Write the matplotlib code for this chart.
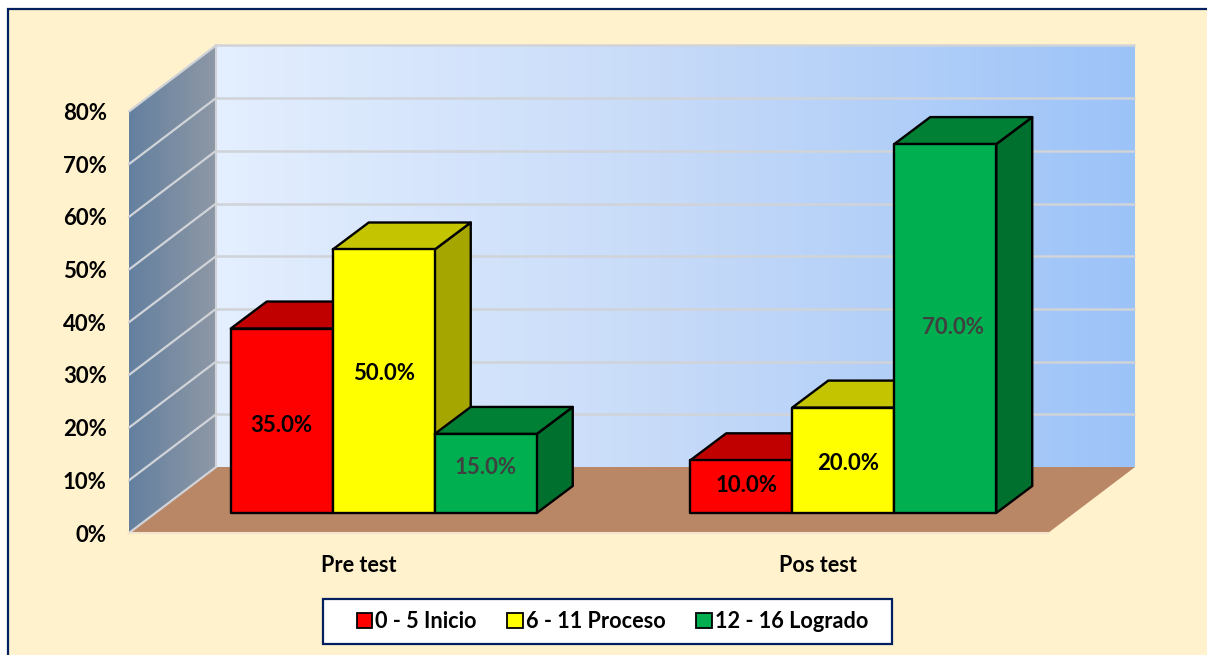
import numpy as np
import matplotlib
matplotlib.use("Agg")
import matplotlib.pyplot as plt
from matplotlib.colors import LinearSegmentedColormap
from matplotlib.patches import Patch, Polygon, Rectangle

plt.rcParams["font.family"] = ["Lato", "DejaVu Sans"]

# Datos
categorias = ["Pre test", "Pos test"]
niveles = ["0 - 5 Inicio", "6 - 11 Proceso", "12 - 16 Logrado"]
inicio = [35.0, 10.0]
proceso = [50.0, 20.0]
logrado = [15.0, 70.0]
ticks_y = [0, 10, 20, 30, 40, 50, 60, 70, 80]

# Colores: frente, arriba, lado
col_frente = ["#FF0000", "#FFFF00", "#00B050"]
col_arriba = ["#C00000", "#C4C400", "#008035"]
col_lado = ["#C00000", "#A6A600", "#00702F"]
col_texto = ["black", "black", "#404040"]

fig = plt.figure(figsize=(12.07, 6.55), dpi=100, facecolor="white")
fig.add_artist(Rectangle((8 / 1207, -0.05), 1.1, (655 - 9) / 655 + 0.05,
                         transform=fig.transFigure, facecolor="#FFF2CC",
                         edgecolor="#002060", linewidth=1.6, zorder=-1))

# El plano frontal del eje va de x=129 a 1048 y de y=533 a 111.4 (pixeles)
esc_y = 5.27
ax = fig.add_axes([129 / 1207, (655 - 533) / 655, 919 / 1207, 80 * esc_y / 655])
ax.patch.set_visible(False)
for s in ax.spines.values():
    s.set_visible(False)

# Profundidad de las paredes y de las barras, en unidades de datos
prof_x = 87 / 459.5
prof_y = 66 / esc_y
barra_x = 36 / 459.5
barra_y = 27 / esc_y
ancho = 102 / 459.5
desp_x = 25 / 459.5
desp_y = 20 / esc_y

# Pared del fondo con degradado
ax.imshow(np.linspace(0, 1, 256).reshape(1, -1),
          cmap=LinearSegmentedColormap.from_list("fondo", ["#E4EFFF", "#C6DAF8", "#9CC3F8"]),
          extent=(prof_x, 2 + prof_x, prof_y, 80 + prof_y),
          aspect="auto", zorder=1, clip_on=False)

# Pared izquierda con degradado
pared = Polygon([(0, 0), (prof_x, prof_y), (prof_x, 80 + prof_y), (0, 80)],
                closed=True, facecolor="none", edgecolor="none")
ax.add_patch(pared)
img = ax.imshow(np.linspace(0, 1, 256).reshape(1, -1),
                cmap=LinearSegmentedColormap.from_list("pared", ["#64809F", "#8E98A6"]),
                extent=(0, prof_x, 0, 80 + prof_y),
                aspect="auto", zorder=1)
img.set_clip_box(fig.bbox)
img.set_clip_path(pared)
ax.set_xlim(0, 2)
ax.set_ylim(0, 80)

# Piso
ax.add_patch(Polygon([(0, 0), (prof_x, prof_y), (2 + prof_x, prof_y), (2, 0)],
                     closed=True, facecolor="#B98766", edgecolor="none",
                     zorder=1.5, clip_on=False))

# Lineas de la grilla
gris = "#D0D3D8"
for t in ticks_y:
    if t > 0:
        ax.plot([prof_x, 2 + prof_x], [t + prof_y, t + prof_y], color=gris, lw=1.8,
                zorder=2, clip_on=False, solid_capstyle="butt")
    ax.plot([0, prof_x], [t, t + prof_y], color=gris, lw=1.6, zorder=2,
            clip_on=False)
ax.plot([prof_x, prof_x], [prof_y, 80 + prof_y], color=gris, lw=1.5, zorder=2,
        clip_on=False)
ax.plot([0, 2], [0, 0], color="#F3E4CF", lw=1.5, zorder=2, clip_on=False)


def barra(x0, v, i):
    y0 = desp_y
    y1 = desp_y + v
    x1 = x0 + ancho
    borde = dict(edgecolor="black", linewidth=1.7, joinstyle="round",
                 zorder=3 + 0.1 * i, clip_on=False)
    ax.add_patch(Polygon([(x1, y0), (x1 + barra_x, y0 + barra_y),
                          (x1 + barra_x, y1 + barra_y), (x1, y1)],
                         facecolor=col_lado[i], **borde))
    ax.add_patch(Polygon([(x0, y1), (x0 + barra_x, y1 + barra_y),
                          (x1 + barra_x, y1 + barra_y), (x1, y1)],
                         facecolor=col_arriba[i], **borde))
    ax.add_patch(Polygon([(x0, y0), (x1, y0), (x1, y1), (x0, y1)],
                         facecolor=col_frente[i], **borde))


series = [inicio, proceso, logrado]
# Las etiquetas no quedan justo al centro de cada barra en el original
ajuste_x = [[0, 0.0109], [0, 0.0109], [0, 0.0174]]
ajuste_y = [[-0.9, 0.2], [1.5, -0.6], [1.2, 0.2]]
for c in range(len(categorias)):
    x_grupo = c + 0.5 + desp_x - 1.5 * ancho
    for i, s in enumerate(series):
        x0 = x_grupo + i * ancho
        barra(x0, s[c], i)
        ax.text(x0 + ancho / 2 + ajuste_x[i][c], desp_y + s[c] / 2 + ajuste_y[i][c],
                f"{s[c]:.1f}%", ha="center", va="center", fontsize=16,
                fontweight="bold", color=col_texto[i], zorder=5)

# Ejes
ax.set_yticks(ticks_y)
ax.set_yticklabels([f"{t}%" for t in ticks_y], fontsize=16, fontweight="bold")
ax.set_xticks([0.5, 1.5])
ax.set_xticklabels(categorias, fontsize=15.6, fontweight="bold")
ax.tick_params(axis="both", length=0)
ax.tick_params(axis="y", pad=16)
ax.tick_params(axis="x", pad=16)

# Leyenda: el marco va aparte porque no tiene el mismo margen a cada lado
fig.add_artist(Rectangle((323 / 1207, (655 - 644) / 655), 569 / 1207, 45 / 655,
                         transform=fig.transFigure, facecolor="white",
                         edgecolor="#002060", linewidth=1.6, zorder=1))
handles = [Patch(facecolor=col_frente[i], edgecolor="black", linewidth=1.3,
                 label=niveles[i]) for i in range(3)]
leg = fig.legend(handles=handles, loc="center", ncol=3,
                 bbox_to_anchor=(612.5 / 1207, (655 - 621.5) / 655),
                 frameon=False, handlelength=0.72, handleheight=0.72, handletextpad=0.15,
                 columnspacing=1.4, borderpad=0, borderaxespad=0,
                 prop={"size": 15.6, "weight": "bold"})
leg.set_zorder(2)

fig.savefig("out.png", dpi=100)
